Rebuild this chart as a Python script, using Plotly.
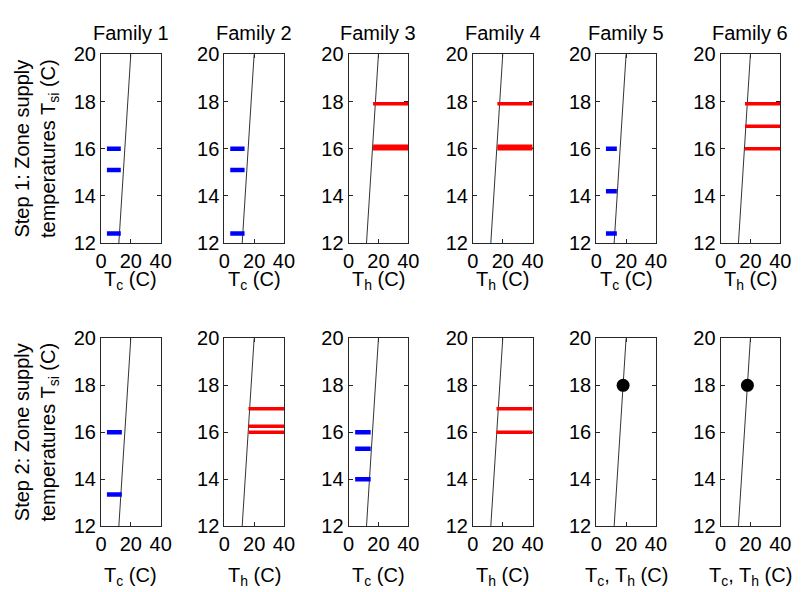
import plotly.graph_objects as go

# ---- data -----------------------------------------------------------------
families = ["Family 1", "Family 2", "Family 3", "Family 4", "Family 5", "Family 6"]

x_ticks = [0, 20, 40]
y_ticks = [12, 14, 16, 18, 20]

# bisector T = Tsi drawn in every panel
diag = [12, 20]

# Step 1: zone supply temperatures (C) of cooled / heated zones
s1_cool_levels = [[16.0, 15.1, 12.4], [16.0, 15.1, 12.4], [], [], [16.0, 14.2, 12.4], []]
s1_cool_lo = [4.0, 4.0, None, None, 6.5, None]
s1_cool_hi = [13.3, 13.6, None, None, 13.8, None]
s1_heat_levels = [[], [], [17.9, 16.1, 16.0], [17.9, 16.1, 16.0], [], [17.9, 16.95, 16.0]]
s1_heat_lo = [None, None, 16.4, 16.4, None, 16.4]

# Step 2: zone supply temperatures (C) after the second step
s2_cool_levels = [[16.0, 13.35], [], [16.0, 15.3, 14.0], [], [], []]
s2_cool_lo = [4.0, None, 4.4, None, None, None]
s2_cool_hi = [14.0, None, 14.8, None, None, None]
s2_heat_levels = [[], [17.0, 16.25, 16.0], [], [17.0, 16.0], [], []]
s2_heat_lo = [None, 16.2, None, 15.8, None, None]
heat_hi = 40.0

# single operating point for families 5 and 6 in step 2
s2_point_T = [None, None, None, None, 18.0, 18.0]
s2_point_Tsi = [None, None, None, None, 18.0, 18.0]

s1_xtitles = ["T<sub>c</sub> (C)", "T<sub>c</sub> (C)", "T<sub>h</sub> (C)",
              "T<sub>h</sub> (C)", "T<sub>c</sub> (C)", "T<sub>h</sub> (C)"]
s2_xtitles = ["T<sub>c</sub> (C)", "T<sub>h</sub> (C)", "T<sub>c</sub> (C)",
              "T<sub>h</sub> (C)", "T<sub>c</sub>, T<sub>h</sub> (C)",
              "T<sub>c</sub>, T<sub>h</sub> (C)"]
row_titles = ["Step 1: Zone supply<br>temperatures T<sub>si</sub> (C)",
              "Step 2: Zone supply<br>temperatures T<sub>si</sub> (C)"]

# ---- layout geometry (pixels) ----------------------------------------------
W, H = 803, 592
col_left = [97, 223, 350, 477, 603, 730]
col_w = 61
rows_px = [(45, 241), (340, 535)]
title_offset = [39, 52]
FONT = "Liberation Sans, Arial, Helvetica, sans-serif"
FS = 20
INK = "#262626"


def px_x(x):
    return x / W


def px_y(y):
    return 1 - y / H


def segments(levels, lo, hi):
    xs, ys = [], []
    for lv in levels:
        xs += [lo, hi, None]
        ys += [lv, lv, None]
    return xs, ys


fig = go.Figure()
layout = dict(
    width=W, height=H,
    margin=dict(l=0, r=0, t=0, b=0),
    paper_bgcolor="white", plot_bgcolor="white",
    showlegend=False,
    font=dict(family=FONT, size=FS, color="black"),
    annotations=[],
)

steps = [
    (s1_cool_levels, s1_cool_lo, s1_cool_hi, s1_heat_levels, s1_heat_lo, s1_xtitles),
    (s2_cool_levels, s2_cool_lo, s2_cool_hi, s2_heat_levels, s2_heat_lo, s2_xtitles),
]

k = 0
for r, (cl, clo, chi, hl, hlo, xt) in enumerate(steps):
    top, bot = rows_px[r]
    for c in range(6):
        k += 1
        sfx = "" if k == 1 else str(k)
        xa, ya = "x" + sfx, "y" + sfx
        left = col_left[c]
        axis_common = dict(
            showgrid=False, zeroline=False, showline=True, linecolor=INK,
            linewidth=1, mirror="ticks", ticks="inside", ticklen=4,
            tickwidth=1, tickcolor=INK, fixedrange=True, layer="below traces",
            tickfont=dict(family=FONT, size=FS, color="black"),
        )
        layout["xaxis" + sfx] = dict(
            axis_common, domain=[px_x(left), px_x(left + col_w)], anchor=ya,
            range=[0, 40], tickvals=x_ticks, ticktext=[str(v) for v in x_ticks],
        )
        layout["yaxis" + sfx] = dict(
            axis_common, domain=[px_y(bot), px_y(top)], anchor=xa,
            range=[12, 20], tickvals=y_ticks, ticktext=[str(v) for v in y_ticks],
        )

        # bisector line
        fig.add_trace(go.Scatter(x=diag, y=diag, xaxis=xa, yaxis=ya, mode="lines",
                                 line=dict(color="#333333", width=1), hoverinfo="skip"))
        # cooled zones
        if cl[c]:
            xs, ys = segments(cl[c], clo[c], chi[c])
            fig.add_trace(go.Scatter(x=xs, y=ys, xaxis=xa, yaxis=ya, mode="lines",
                                     line=dict(color="#0000ff", width=4.5)))
        # heated zones
        if hl[c]:
            xs, ys = segments(hl[c], hlo[c], heat_hi)
            fig.add_trace(go.Scatter(x=xs, y=ys, xaxis=xa, yaxis=ya, mode="lines",
                                     line=dict(color="#ff0000", width=3.5)))
        # operating point
        if r == 1 and s2_point_T[c] is not None:
            fig.add_trace(go.Scatter(x=[s2_point_T[c]], y=[s2_point_Tsi[c]],
                                     xaxis=xa, yaxis=ya, mode="markers",
                                     marker=dict(color="black", size=13)))

        # x-axis title
        layout["annotations"].append(dict(
            xref="paper", yref="paper", x=px_x(left + col_w / 2),
            y=px_y(bot + title_offset[r]),
            text=xt[c], showarrow=False, xanchor="center", yanchor="middle",
            font=dict(family=FONT, size=FS, color="black"),
        ))
        # family titles over the first row
        if r == 0:
            layout["annotations"].append(dict(
                xref="paper", yref="paper", x=px_x(left + col_w / 2), y=px_y(23),
                text=families[c], showarrow=False, xanchor="center", yanchor="middle",
                font=dict(family=FONT, size=FS, color="black"),
            ))

    # row title on the left
    layout["annotations"].append(dict(
        xref="paper", yref="paper", x=px_x(31), y=px_y((top + bot) / 2),
        text=row_titles[r], showarrow=False, textangle=-90,
        xanchor="center", yanchor="middle",
        font=dict(family=FONT, size=FS, color="black"),
    ))

fig.update_layout(**layout)
fig.write_html("out.html")
